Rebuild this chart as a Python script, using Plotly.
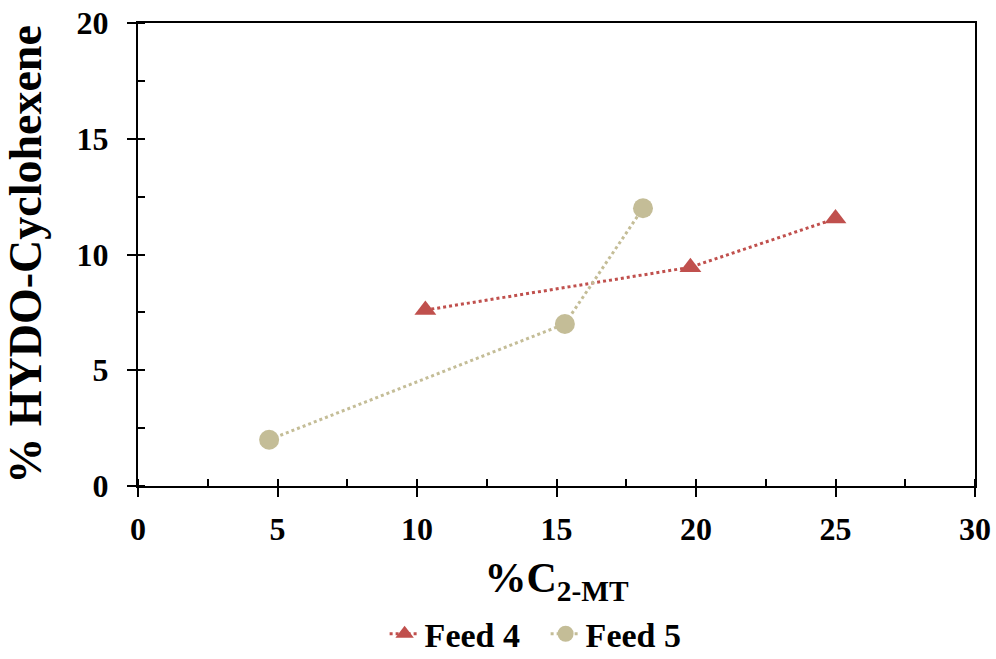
import plotly.graph_objects as go

# Feed 4 and Feed 5 series
feed4_x = [10.3, 19.8, 25.0]
feed4_y = [7.6, 9.45, 11.55]
feed5_x = [4.7, 15.3, 18.1]
feed5_y = [2.0, 7.0, 12.0]

x_ticks = [0, 5, 10, 15, 20, 25, 30]
y_ticks = [0, 5, 10, 15, 20]

RED = "#C0504D"
TAN = "#C4BD97"
FONT = "Liberation Serif"

fig = go.Figure()
fig.add_trace(go.Scatter(
    x=feed4_x, y=feed4_y, mode="lines+markers", name="Feed 4",
    line=dict(color=RED, width=3, dash="dot"),
    marker=dict(symbol="triangle-up", size=19, color=RED),
))
fig.add_trace(go.Scatter(
    x=feed5_x, y=feed5_y, mode="lines+markers", name="Feed 5",
    line=dict(color=TAN, width=3, dash="dot"),
    marker=dict(symbol="circle", size=20, color=TAN),
))
# invisible trace on overlay axes carrying the inward half of the major ticks
fig.add_trace(go.Scatter(x=[0], y=[0], xaxis="x2", yaxis="y2", mode="markers",
                         marker=dict(opacity=0), showlegend=False, hoverinfo="skip"))

axis_common = dict(
    showgrid=False, zeroline=False, showline=True, linecolor="black", linewidth=2,
    ticks="outside", ticklen=9, tickwidth=2, tickcolor="black",
    tickfont=dict(family=FONT, size=32, color="black", weight="bold"),
    mirror=True,
)
minor_ticks = dict(dtick=2.5, ticks="inside", ticklen=7, tickwidth=2, tickcolor="black")

fig.update_layout(
    width=996, height=659,
    margin=dict(l=138, r=21, t=23, b=173, autoexpand=False),
    plot_bgcolor="white", paper_bgcolor="white",
    xaxis=dict(
        range=[0, 30], tickvals=x_ticks, ticklabelstandoff=5,
        minor=minor_ticks,
        title=dict(text="%C<sub>2-MT</sub>", standoff=16,
                   font=dict(family=FONT, size=42, color="black", weight="bold")),
        **axis_common,
    ),
    yaxis=dict(
        range=[0, 20], tickvals=y_ticks, ticklabelstandoff=12,
        minor=minor_ticks,
        title=dict(text="% HYDO-Cyclohexene", standoff=20,
                   font=dict(family=FONT, size=46, color="black", weight="bold")),
        **axis_common,
    ),
    xaxis2=dict(range=[0, 30], overlaying="x", tickvals=x_ticks, showticklabels=False,
                ticks="inside", ticklen=7, tickwidth=2, tickcolor="black",
                showgrid=False, zeroline=False, showline=False, anchor="y2"),
    yaxis2=dict(range=[0, 20], overlaying="y", tickvals=y_ticks, showticklabels=False,
                ticks="inside", ticklen=7, tickwidth=2, tickcolor="black",
                showgrid=False, zeroline=False, showline=False, anchor="x2"),
    legend=dict(orientation="h", x=0.487, xanchor="center", y=-0.32, yanchor="middle",
                font=dict(family=FONT, size=34, color="black", weight="bold"),
                itemwidth=30, entrywidth=116, entrywidthmode="pixels", tracegroupgap=0),
    showlegend=True,
)

fig.write_html("out.html")
